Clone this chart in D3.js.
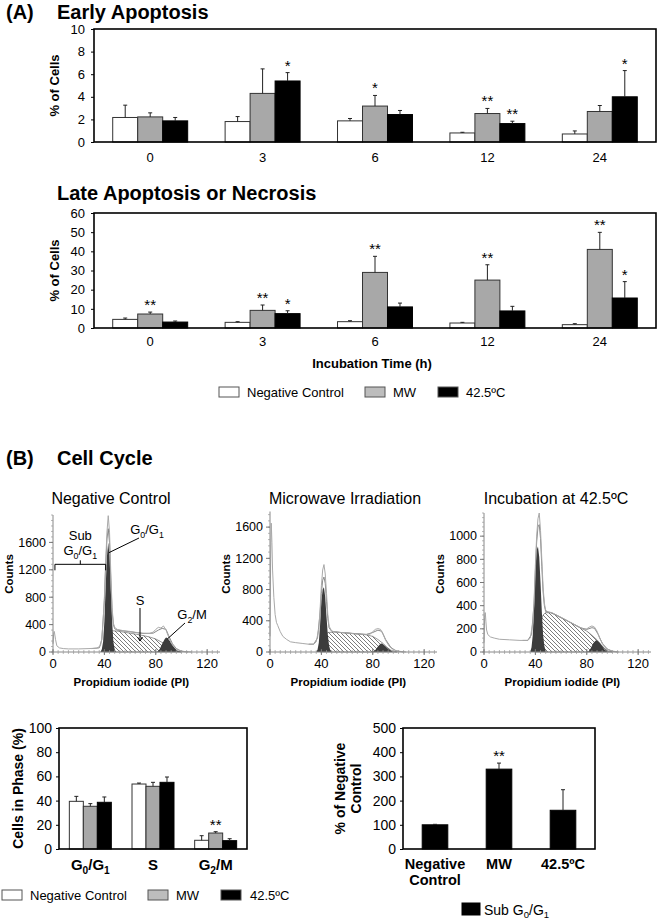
<!DOCTYPE html>
<html><head><meta charset="utf-8">
<script src="https://cdn.jsdelivr.net/npm/d3@7"></script>
<style>body{margin:0;background:#fff}</style>
</head><body><svg id="c" width="660" height="919"></svg>
<script>
// ---------------- DATA ----------------
const timeCats = ["0","3","6","12","24"];
const seriesNames = ["Negative Control","MW","42.5ºC"];

const earlyNC = [2.17,1.81,1.87,0.80,0.71];
const earlyNCsd = [1.09,0.44,0.21,0.06,0.27];
const earlyMW = [2.22,4.30,3.18,2.52,2.70];
const earlyMWsd = [0.36,2.17,0.94,0.45,0.53];
const earlyHT = [1.87,5.40,2.43,1.63,4.00];
const earlyHTsd = [0.30,0.74,0.36,0.21,2.32];
const earlyMWstars = ["","","*","**",""];
const earlyHTstars = ["","*","","**","*"];

const lateNC = [4.5,2.95,3.3,2.6,1.74];
const lateNCsd = [0.7,0.35,0.5,0.35,0.52];
const lateMW = [7.3,9.2,29.0,25.0,41.0];
const lateMWsd = [1.0,2.8,8.4,8.0,8.9];
const lateHT = [3.1,7.5,11.0,8.9,15.65];
const lateHTsd = [0.55,1.5,2.0,2.4,8.55];
const lateMWstars = ["**","**","**","**","**"];
const lateHTstars = ["","*","","","*"];

const phaseCats = ["G_0/G_1","S","G_2/M"];
const phaseNC = [39.4,53.7,7.2];
const phaseNCsd = [4.1,0.8,3.8];
const phaseMW = [35.3,51.8,13.2];
const phaseMWsd = [2.2,3.3,1.1];
const phaseHT = [38.6,55.1,6.9];
const phaseHTsd = [4.4,4.4,1.6];
const phaseMWstars = ["","","**"];

const subCats = ["Negative Control","MW","42.5ºC"];
const subCatLines = [["Negative","Control"],["MW"],["42.5ºC"]];
const subVals = [100,330,160];
const subSd = [2,25,85];
const subStars = ["","**",""];

// flow cytometry histograms: [PI channel, counts]
const ncRaw = [[0,120],[0.5,260],[1,300],[2,180],[3,90],[5,60],[8,50],[12,45],[20,45],[28,50],[34,55],[37,90],[38,200],[39,450],[40,800],[41,1300],[42,1750],[43,1990],[44,1750],[45,1150],[46,650],[47,420],[48,360],[50,330],[55,310],[60,300],[65,285],[70,275],[75,270],[78,290],[80,330],[82,360],[84,350],[86,380],[88,320],[90,220],[92,130],[95,60],[98,25],[102,8],[108,0]];
const ncFit = [[30,50],[36,60],[38,180],[40,750],[41,1250],[42,1650],[43,1800],[44,1600],[45,1050],[46,600],[47,400],[48,340],[50,320],[60,295],[70,270],[78,275],[82,320],[85,345],[88,330],[90,240],[93,120],[96,50],[100,10],[105,0]];
const ncG1 = [[37,0],[38,40],[39,150],[40,450],[41,950],[42,1400],[43,1600],[44,1400],[45,900],[46,450],[47,150],[48,40],[49,0]];
const ncS = [[40,0],[42,120],[44,260],[46,310],[50,305],[55,290],[60,275],[65,258],[70,240],[75,220],[80,190],[84,150],[88,105],[91,65],[94,30],[97,8],[100,0]];
const ncG2 = [[81,0],[83,40],[85,120],[87,190],[88,210],[89,205],[91,160],[93,100],[95,50],[97,20],[100,0]];

const mwRaw = [[0,200],[0.5,1200],[1,1650],[1.5,1400],[2,1050],[3,700],[4,480],[5,380],[6,340],[8,260],[10,200],[13,160],[16,130],[20,120],[25,110],[30,100],[34,100],[36,130],[38,300],[39,550],[40,850],[41,1050],[42,1120],[43,1000],[44,750],[45,480],[46,330],[48,270],[50,260],[55,250],[60,245],[65,235],[70,230],[75,225],[78,230],[80,260],[82,290],[84,300],[86,290],[88,230],[90,150],[93,70],[96,30],[100,10],[106,0]];
const mwFit = [[30,100],[34,100],[37,180],[39,500],[40,750],[41,920],[42,960],[43,880],[44,650],[45,430],[46,310],[48,265],[55,250],[65,235],[75,225],[80,250],[84,280],[87,265],[90,160],[94,60],[98,15],[104,0]];
const mwG1 = [[36,0],[37,30],[38,120],[39,350],[40,650],[41,800],[42,830],[43,700],[44,450],[45,220],[46,80],[47,20],[48,0]];
const mwS = [[39,0],[41,100],[43,200],[45,250],[50,255],[55,250],[60,245],[65,238],[70,230],[75,220],[80,200],[84,160],[88,110],[91,60],[94,25],[97,5],[99,0]];
const mwG2 = [[80,0],[82,25],[84,70],[86,105],[87,110],[88,100],[90,70],[92,40],[94,15],[96,0]];

const htRaw = [[0,80],[0.5,300],[1,340],[1.5,260],[2,190],[3,150],[5,130],[8,120],[12,110],[20,105],[28,100],[34,100],[36,120],[38,250],[39,450],[40,750],[41,1000],[42,1150],[43,1200],[44,1050],[45,800],[46,560],[47,420],[48,360],[50,345],[53,340],[56,320],[60,300],[65,270],[70,240],[75,210],[78,195],[80,200],[82,215],[84,225],[86,215],[88,180],[90,120],[93,60],[96,25],[100,8],[105,0]];
const htFit = [[30,100],[34,100],[37,150],[39,420],[40,700],[41,950],[42,1080],[43,1100],[44,980],[45,740],[46,520],[47,400],[48,350],[52,340],[56,320],[60,295],[65,268],[70,238],[75,210],[80,195],[84,210],[86,205],[89,150],[92,75],[96,25],[100,5],[104,0]];
const htG1 = [[36,0],[37,40],[38,150],[39,400],[40,700],[41,880],[42,910],[43,820],[44,600],[45,350],[46,150],[47,50],[48,10],[49,0]];
const htS = [[40,0],[42,120],[44,250],[46,320],[48,340],[52,338],[56,320],[60,298],[65,268],[70,238],[75,208],[80,180],[84,145],[88,105],[91,65],[94,30],[97,8],[100,0]];
const htG2 = [[81,0],[83,30],[85,75],[87,100],[88,100],[90,80],[92,50],[94,20],[96,5],[98,0]];

const histXTicks = [0,40,80,120];
const ncYTicks = [0,400,800,1200,1600];
const mwYTicks = [0,400,800,1200,1600];
const htYTicks = [0,200,400,600,800,1000];

// ---------------- DRAW ----------------
const FONT = '"Liberation Sans", Arial, Helvetica, sans-serif';
const svg = d3.select("#c").attr("font-family", FONT);
const defs = svg.append("defs");
const pat = defs.append("pattern").attr("id","hatch").attr("patternUnits","userSpaceOnUse").attr("width",4).attr("height",4);
pat.append("rect").attr("width",4).attr("height",4).attr("fill","#fff");
pat.append("path").attr("d","M-1,3 L1,5 M-1,-1 L5,5 M3,-1 L5,1").attr("stroke","#444").attr("stroke-width",0.7);

const fills = [{fill:"#fff",stroke:"#333"},{fill:"#a8a8a8",stroke:"#333"},{fill:"#000",stroke:"#000"}];

function rich(t, str, size){
  const re = /_(\w)/g; let last=0, m; const parts=[];
  while((m=re.exec(str))){ if(m.index>last) parts.push({t:str.slice(last,m.index),sub:false}); parts.push({t:m[1],sub:true}); last=re.lastIndex; }
  if(last<str.length) parts.push({t:str.slice(last),sub:false});
  let shifted=false;
  parts.forEach(p=>{
    const ts=t.append("tspan").text(p.t);
    if(p.sub){ ts.attr("font-size",size*0.68).attr("dy",shifted?0:size*0.28); shifted=true; }
    else { ts.attr("dy",shifted?-size*0.28:0); shifted=false; }
  });
  return t;
}
function text(x,y,str,size,opts={}){
  const t = svg.append("text").attr("x",x).attr("y",y).attr("font-size",size)
    .attr("text-anchor",opts.anchor||"start").attr("font-weight",opts.bold?"bold":"normal").attr("fill","#000");
  if(opts.rotate) t.attr("transform",`rotate(-90,${x},${y})`);
  rich(t,str,size);
  return t;
}

function barChart(o){
  const g = svg.append("g");
  const x0 = d3.scaleBand().domain(o.cats).range([o.left,o.right]).paddingInner(o.pad).paddingOuter(o.pad/2);
  const x1 = d3.scaleBand().domain(d3.range(o.series.length)).range([0,x0.bandwidth()]);
  const y = d3.scaleLinear().domain([0,o.yMax]).range([o.bottom,o.top]);
  const ag = g.append("g").attr("transform",`translate(${o.left},0)`)
    .call(d3.axisLeft(y).tickValues(d3.range(0,o.yMax+1e-6,o.yStep)).tickSize(3).tickPadding(o.tickPad||5).tickFormat(d3.format("d")));
  ag.select(".domain").remove();
  ag.selectAll("text").attr("font-size",o.tickFont).attr("font-family",FONT).attr("fill","#000");
  ag.selectAll("line").attr("stroke","#000");
  o.series.forEach((s,si)=>{
    const sg = g.append("g");
    const cx = i => x0(o.cats[i])+x1(si)+x1.bandwidth()/2;
    sg.selectAll("rect").data(s.vals).join("rect")
      .attr("x",(d,i)=>x0(o.cats[i])+x1(si)).attr("y",d=>y(d))
      .attr("width",x1.bandwidth()).attr("height",d=>o.bottom-y(d))
      .attr("fill",s.fill).attr("stroke",s.stroke).attr("stroke-width",1);
    sg.selectAll("path.err").data(s.vals).join("path").attr("class","err")
      .attr("d",(d,i)=>`M${cx(i)},${y(d)}V${y(d+s.sd[i])}M${cx(i)-2},${y(d+s.sd[i])}H${cx(i)+2}`)
      .attr("stroke","#222").attr("stroke-width",1).attr("fill","none");
    if(s.stars){
      sg.selectAll("text").data(s.vals).join("text")
        .attr("x",(d,i)=>cx(i)).attr("y",(d,i)=>y(d+s.sd[i])-2)
        .attr("text-anchor","middle").attr("font-size",o.starFont||15).attr("font-family",FONT).attr("fill","#000")
        .text((d,i)=>s.stars[i]);
    }
  });
  g.append("rect").attr("x",o.left).attr("y",o.top).attr("width",o.right-o.left).attr("height",o.bottom-o.top)
    .attr("fill","none").attr("stroke","#000").attr("stroke-width",1.6);
  return {x0,y};
}

function legendBox(x,y,w,h,fill,stroke){
  svg.append("rect").attr("x",x).attr("y",y).attr("width",w).attr("height",h).attr("fill",fill).attr("stroke",stroke).attr("stroke-width",1);
}

// ---- Panel A ----
text(6,19,"(A)",20,{bold:true});
text(57,19,"Early Apoptosis",20,{bold:true});
const early = barChart({left:94,right:656,top:29,bottom:142,cats:timeCats,pad:0.333,yMax:10,yStep:2,tickFont:13,tickPad:6,
  series:[{vals:earlyNC,sd:earlyNCsd,...fills[0]},{vals:earlyMW,sd:earlyMWsd,stars:earlyMWstars,...fills[1]},{vals:earlyHT,sd:earlyHTsd,stars:earlyHTstars,...fills[2]}]});
timeCats.forEach(c=>text(early.x0(c)+early.x0.bandwidth()/2,162,c,13,{anchor:"middle"}));
text(59,85.5,"% of Cells",13,{bold:true,rotate:true,anchor:"middle"});

text(57,200,"Late Apoptosis or Necrosis",20,{bold:true});
const late = barChart({left:94,right:656,top:213,bottom:328,cats:timeCats,pad:0.333,yMax:60,yStep:10,tickFont:13,tickPad:6,
  series:[{vals:lateNC,sd:lateNCsd,...fills[0]},{vals:lateMW,sd:lateMWsd,stars:lateMWstars,...fills[1]},{vals:lateHT,sd:lateHTsd,stars:lateHTstars,...fills[2]}]});
timeCats.forEach(c=>text(late.x0(c)+late.x0.bandwidth()/2,346,c,13,{anchor:"middle"}));
text(59,270.5,"% of Cells",13,{bold:true,rotate:true,anchor:"middle"});
text(372,368,"Incubation Time (h)",13,{bold:true,anchor:"middle"});

// legend A
[[219,247],[365,393],[438,466]].forEach((p,i)=>{
  legendBox(p[0],387,20,10,i===1?"#bdbdbd":fills[i].fill,"#555");
  text(p[1],396.5,seriesNames[i],13);
});

// ---- Panel B ----
text(6,465,"(B)",20,{bold:true});
text(57,465,"Cell Cycle",20,{bold:true});

function histogram(o){
  const g = svg.append("g");
  const x = d3.scaleLinear().domain([0,130]).range([o.left,o.left+167]);
  const y = d3.scaleLinear().domain([0,o.yMax]).range([652,o.top]);
  const area = d3.area().x(d=>x(d[0])).y0(y(0)).y1(d=>y(d[1]));
  const line = d3.line().x(d=>x(d[0])).y(d=>y(d[1]));
  g.append("path").datum(o.s).attr("d",area).attr("fill","url(#hatch)").attr("stroke","#555").attr("stroke-width",0.6);
  g.append("path").datum(o.g1).attr("d",area).attr("fill","#3c3c3c");
  g.append("path").datum(o.g2).attr("d",area).attr("fill","#3c3c3c");
  g.append("path").datum(o.fit).attr("d",line).attr("fill","none").attr("stroke","#7a7a7a").attr("stroke-width",0.9);
  g.append("path").datum(o.raw).attr("d",line).attr("fill","none").attr("stroke","#a9a9a9").attr("stroke-width",1);
  // x axis
  const xa = g.append("g").attr("transform","translate(0,652)");
  xa.append("line").attr("x1",x(0)).attr("x2",x(130)).attr("stroke","#888");
  xa.selectAll("line.mi").data(d3.range(0,131,4)).join("line").attr("class","mi")
    .attr("x1",d=>x(d)).attr("x2",d=>x(d)).attr("y1",-2).attr("y2",2).attr("stroke","#999").attr("stroke-width",0.7);
  xa.selectAll("line.ma").data(histXTicks).join("line").attr("class","ma")
    .attr("x1",d=>x(d)).attr("x2",d=>x(d)).attr("y1",-3).attr("y2",3).attr("stroke","#777");
  xa.selectAll("text").data(histXTicks).join("text").attr("x",d=>x(d)).attr("y",15.5)
    .attr("text-anchor","middle").attr("font-size",13).attr("fill","#000").text(d=>d);
  // y axis
  const ya = g.append("g").attr("transform",`translate(${o.left},0)`);
  ya.append("line").attr("y1",y(0)).attr("y2",o.top).attr("stroke","#888");
  ya.selectAll("line.mi").data(d3.range(0,o.yMax+1e-6,o.minor)).join("line").attr("class","mi")
    .attr("y1",d=>y(d)).attr("y2",d=>y(d)).attr("x1",-2).attr("x2",0).attr("stroke","#999").attr("stroke-width",0.7);
  ya.selectAll("line.ma").data(o.yTicks).join("line").attr("class","ma")
    .attr("y1",d=>y(d)).attr("y2",d=>y(d)).attr("x1",-4).attr("x2",0).attr("stroke","#777");
  ya.selectAll("text").data(o.yTicks).join("text").attr("x",-7).attr("y",d=>y(d)+4.3)
    .attr("text-anchor","end").attr("font-size",12.5).attr("fill","#000").text(d=>d);
  text(o.titleX,504,o.title,16,{anchor:"middle"});
  text(o.left-40,574,"Counts",11.5,{bold:true,rotate:true,anchor:"middle"});
  text(x(61),686,"Propidium iodide (PI)",11.5,{bold:true,anchor:"middle"});
  return {x,y};
}

const h1 = histogram({left:53,top:515,yMax:2000,minor:80,yTicks:ncYTicks,raw:ncRaw,fit:ncFit,g1:ncG1,s:ncS,g2:ncG2,title:"Negative Control",titleX:111});
const h2 = histogram({left:270,top:511.5,yMax:1800,minor:80,yTicks:mwYTicks,raw:mwRaw,fit:mwFit,g1:mwG1,s:mwS,g2:mwG2,title:"Microwave Irradiation",titleX:345});
const h3 = histogram({left:484,top:513,yMax:1200,minor:40,yTicks:htYTicks,raw:htRaw,fit:htFit,g1:htG1,s:htS,g2:htG2,title:"Incubation at 42.5ºC",titleX:556});

// annotations on negative control histogram
const by = h1.y(1280);
svg.append("path").attr("d",`M${h1.x(1.5)},${by+6}V${by}H${h1.x(41)}V${by+6}M${(h1.x(1.5)+h1.x(41))/2},${by}v-4`)
  .attr("fill","none").attr("stroke","#000").attr("stroke-width",1);
text((h1.x(1.5)+h1.x(41))/2,539.5,"Sub",13,{anchor:"middle"});
text((h1.x(1.5)+h1.x(41))/2,555,"G_0/G_1",13,{anchor:"middle"});
text(147,534,"G_0/G_1",13,{anchor:"middle"});
svg.append("line").attr("x1",139).attr("y1",538).attr("x2",h1.x(43.5)).attr("y2",h1.y(1450)).attr("stroke","#000");
text(140,604.5,"S",13,{anchor:"middle"});
svg.append("line").attr("x1",140).attr("y1",608).attr("x2",140).attr("y2",h1.y(160)).attr("stroke","#000");
svg.append("path").attr("d",`M137.5,${h1.y(160)-4}L140,${h1.y(160)}L142.5,${h1.y(160)-4}`).attr("fill","none").attr("stroke","#000");
text(192,619,"G_2/M",13,{anchor:"middle"});
svg.append("line").attr("x1",185).attr("y1",623).attr("x2",h1.x(89)).attr("y2",h1.y(190)).attr("stroke","#000");

// bottom-left: cells in phase
const ph = barChart({left:59,right:247,top:728,bottom:849,cats:phaseCats,pad:0.33,yMax:100,yStep:20,tickFont:14,tickPad:4,starFont:15,
  series:[{vals:phaseNC,sd:phaseNCsd,...fills[0]},{vals:phaseMW,sd:phaseMWsd,stars:phaseMWstars,...fills[1]},{vals:phaseHT,sd:phaseHTsd,...fills[2]}]});
phaseCats.forEach(c=>text(ph.x0(c)+ph.x0.bandwidth()/2,870,c,15,{bold:true,anchor:"middle"}));
text(23,788.5,"Cells in Phase (%)",14,{bold:true,rotate:true,anchor:"middle"});
[[2,30],[148,176],[221,250]].forEach((p,i)=>{
  legendBox(p[0],890,20,10,i===1?"#bdbdbd":fills[i].fill,"#555");
  text(p[1],900,seriesNames[i],13);
});

// bottom-right: sub G0/G1
const sb = barChart({left:403,right:595,top:728,bottom:849,cats:subCats,pad:0.6,yMax:500,yStep:100,tickFont:14,tickPad:4,starFont:15,
  series:[{vals:subVals,sd:subSd,stars:subStars,fill:"#000",stroke:"#000"}]});
subCats.forEach((c,i)=>subCatLines[i].forEach((ln,j)=>text(sb.x0(c)+sb.x0.bandwidth()/2,869+j*16,ln,14.5,{bold:true,anchor:"middle"})));
text(345,788.5,"% of Negative",14,{bold:true,rotate:true,anchor:"middle"});
text(361,788.5,"Control",14,{bold:true,rotate:true,anchor:"middle"});
legendBox(462,903,18,12,"#000","#000");
text(484,914.5,"Sub G_0/G_1",14);
</script></body></html>
